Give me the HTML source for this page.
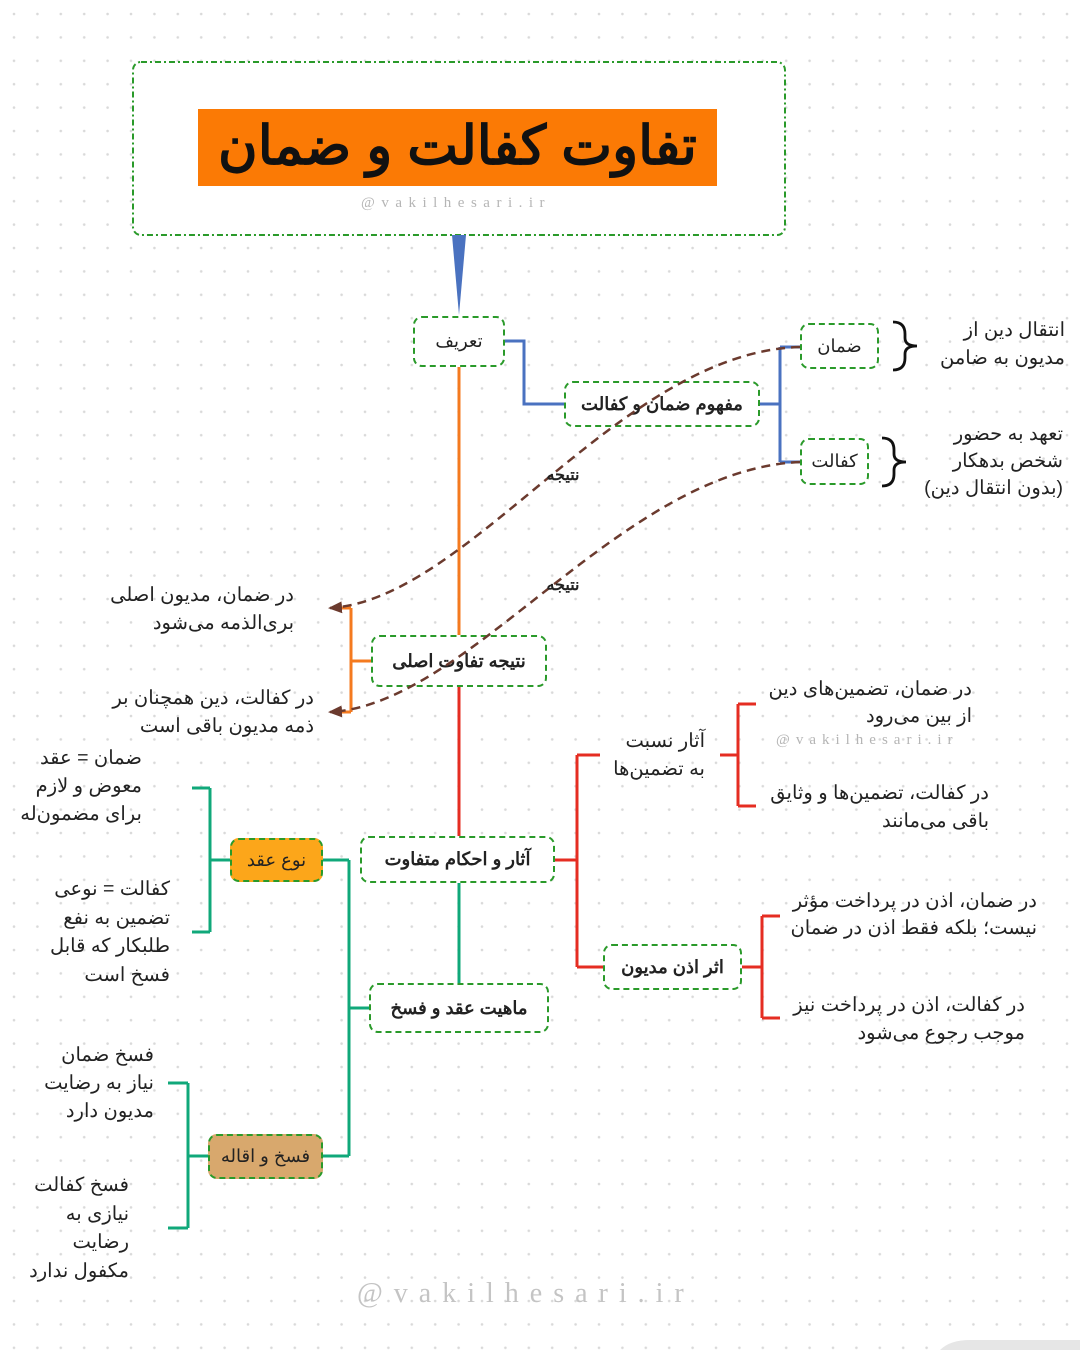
<!DOCTYPE html>
<html><head><meta charset="utf-8"><style>
html,body{margin:0;padding:0}
body{width:1080px;height:1350px;position:relative;overflow:hidden;background:#fff;font-family:"Liberation Sans","Noto Sans CJK SC",sans-serif;color:#222}
svg{position:absolute;left:0;top:0}
.t{position:absolute;direction:rtl;text-align:right;font-size:19.5px;line-height:28px;white-space:nowrap}
.n{position:absolute;box-sizing:border-box;border:2px dashed #2a9a2a;border-radius:9px;background:#fff;display:flex;align-items:center;justify-content:center;direction:rtl;font-size:18px;white-space:nowrap}
.b{font-weight:bold}
.wm{position:absolute;font-family:"Liberation Serif",serif;color:#b5b5b5;white-space:nowrap}
</style></head><body>
<svg width="1080" height="1350">
<defs>
<pattern id="d" width="23.4" height="23.4" patternUnits="userSpaceOnUse" x="3" y="3"><circle cx="11" cy="11" r="1.3" fill="#d9d9d9"/></pattern>
</defs>
<rect width="1080" height="1350" fill="url(#d)"/>
<rect x="133" y="62" width="652" height="173" rx="8" fill="#fff" stroke="#2a9a2a" stroke-width="2" stroke-dasharray="6,3,2,3"/>
<rect x="198" y="109" width="519" height="77" fill="#fb7a05"/>
<polygon points="452,235 466,235 459,315" fill="#4a72c0"/>
<g fill="none" stroke-width="3">
<path d="M505,341 H524 V404 H564 M760,404 H780 M780,347 V462 M780,347 H800 M780,462 H800" stroke="#4a72c0"/>
<path d="M459,367 V635 M371,661 H351 M351,608 V712 M351,608 H336 M351,712 H336" stroke="#f47a1f"/>
<path d="M459,687 V836 M555,860 H577 M577,755 V967 M577,755 H600 M577,967 H603 M720,755 H738 M738,704 V806 M738,704 H756 M738,806 H756 M742,967 H762 M762,916 V1018 M762,916 H780 M762,1018 H780" stroke="#e52d22"/>
<path d="M459,883 V983 M369,1008 H349 M349,860 V1156 M349,860 H323 M349,1156 H323 M230,860 H210 M210,788 V932 M210,788 H192 M210,932 H192 M208,1156 H188 M188,1083 V1228 M188,1083 H168 M188,1228 H168" stroke="#10a87a"/>
</g>
<g fill="none" stroke="#111" stroke-width="2.8">
<path d="M893,322 Q905,322 905,334 V338 Q905,346 917,346 Q905,346 905,354 V358 Q905,370 893,370"/>
<path d="M882,438 Q894,438 894,450 V454 Q894,462 906,462 Q894,462 894,470 V474 Q894,486 882,486"/>
</g>
<path d="M940,1350 Q950,1340 970,1340 H1080 V1350 Z" fill="#e6e6e6"/>
</svg>
<div class="t b" style="left:198px;top:109px;width:519px;height:77px;text-align:center;font-size:54px;line-height:74px;color:#111">تفاوت کفالت و ضمان</div>
<div class="wm" style="left:361px;top:195px;font-size:15px;letter-spacing:6.5px">@vakilhesari.ir</div>

<div class="n" style="left:413px;top:316px;width:92px;height:51px">تعریف</div>
<div class="n b" style="left:564px;top:381px;width:196px;height:46px">مفهوم ضمان و کفالت</div>
<div class="n" style="left:800px;top:323px;width:79px;height:46px">ضمان</div>
<div class="n" style="left:800px;top:438px;width:69px;height:47px">کفالت</div>
<div class="n b" style="left:371px;top:635px;width:176px;height:52px">نتیجه تفاوت اصلی</div>
<div class="n b" style="left:360px;top:836px;width:195px;height:47px">آثار و احکام متفاوت</div>
<div class="n b" style="left:369px;top:983px;width:180px;height:50px">ماهیت عقد و فسخ</div>
<div class="n" style="left:230px;top:838px;width:93px;height:44px;background:#fca61a">نوع عقد</div>
<div class="n" style="left:208px;top:1134px;width:115px;height:45px;background:#d8a86d">فسخ و اقاله</div>
<div class="n b" style="left:603px;top:944px;width:139px;height:46px">اثر اذن مدیون</div>

<svg width="1080" height="1350" style="pointer-events:none">
<defs>
<marker id="ar" markerWidth="14" markerHeight="12" refX="12" refY="6" orient="auto" markerUnits="userSpaceOnUse"><path d="M0,0 L14,6 L0,12 Z" fill="#6b3a2e"/></marker>
</defs>
<g fill="none" stroke="#6b3a2e" stroke-width="2.5" stroke-dasharray="9,6">
<path d="M800,347 C620,352 470,600 330,608" marker-end="url(#ar)"/>
<path d="M800,462 C620,470 470,705 330,712" marker-end="url(#ar)"/>
</g>
</svg>

<div class="t b" style="left:540px;top:462px;width:46px;font-size:16px;text-align:center">نتیجه</div>
<div class="t b" style="left:540px;top:572px;width:46px;font-size:16px;text-align:center">نتیجه</div>

<div class="t" style="right:15px;top:316px">انتقال دین از<br>مدیون به ضامن</div>
<div class="t" style="right:17px;top:421px;line-height:27px">تعهد به حضور<br>شخص بدهکار<br>(بدون انتقال دین)</div>

<div class="t" style="right:786px;top:581px">در ضمان، مدیون اصلی<br>بری‌الذمه می‌شود</div>
<div class="t" style="right:766px;top:684px">در کفالت، دین همچنان بر<br>ذمه مدیون باقی است</div>

<div class="t" style="right:375px;top:727px">آثار نسبت<br>به تضمین‌ها</div>
<div class="t" style="right:108px;top:676px;line-height:27px">در ضمان، تضمین‌های دین<br>از بین می‌رود</div>
<div class="wm" style="left:776px;top:732px;font-size:15px;letter-spacing:6px">@vakilhesari.ir</div>
<div class="t" style="right:91px;top:779px">در کفالت، تضمین‌ها و وثایق<br>باقی می‌مانند</div>
<div class="t" style="right:43px;top:888px;line-height:27px">در ضمان، اذن در پرداخت مؤثر<br>نیست؛ بلکه فقط اذن در ضمان</div>
<div class="t" style="right:55px;top:991px">در کفالت، اذن در پرداخت نیز<br>موجب رجوع می‌شود</div>

<div class="t" style="right:938px;top:744px">ضمان = عقد<br>معوض و لازم<br>برای مضمون‌له</div>
<div class="t" style="right:910px;top:875px;line-height:28.5px">کفالت = نوعی<br>تضمین به نفع<br>طلبکار که قابل<br>فسخ است</div>
<div class="t" style="right:926px;top:1041px">فسخ ضمان<br>نیاز به رضایت<br>مدیون دارد</div>
<div class="t" style="right:951px;top:1171px;line-height:28.7px">فسخ کفالت<br>نیازی به<br>رضایت<br>مکفول ندارد</div>

<div class="wm" style="left:357px;top:1278px;font-size:28px;letter-spacing:11px;color:#c4c4c4">@vakilhesari.ir</div>
</body></html>
